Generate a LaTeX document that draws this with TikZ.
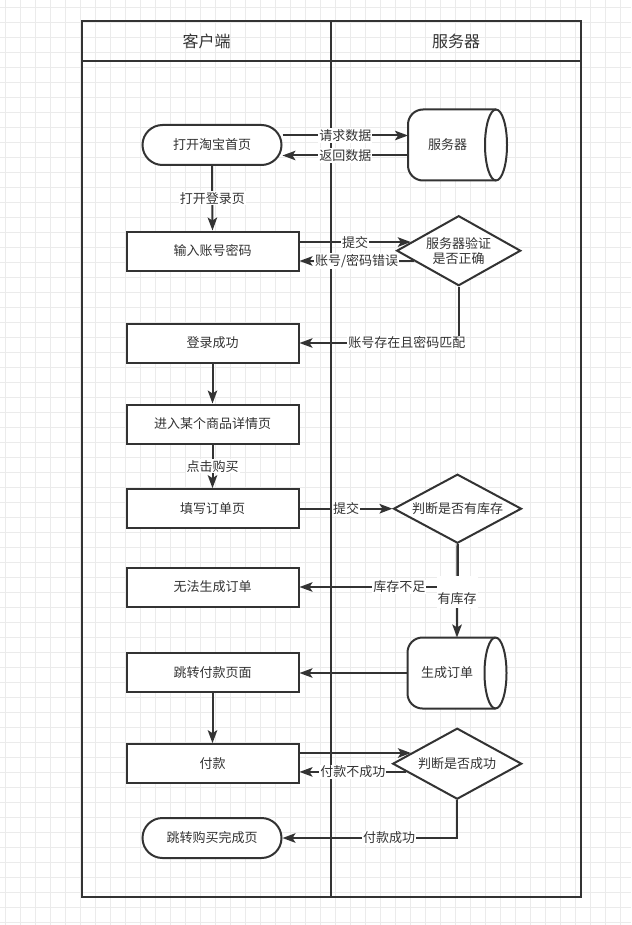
\documentclass[tikz,border=0pt]{standalone}
\usepackage{fontspec}
\setmainfont{Noto Sans CJK SC}
\usetikzlibrary{shapes.geometric,arrows.meta,calc}
\definecolor{ink}{HTML}{333333}
\definecolor{gridc}{HTML}{EBEBEB}
\pgfdeclarelayer{gridlayer}
\pgfdeclarelayer{shapelayer}
\pgfsetlayers{gridlayer,shapelayer,main}
\newcommand\storageshape[1]{%
  \begin{pgfonlayer}{shapelayer}
  \filldraw[fill=white,draw=ink,line width=2pt]
    ($(#1.north west)+(15pt,0)$) -- ($(#1.north east)+(-11pt,0)$)
    arc[start angle=90,end angle=-90,x radius=11pt,y radius=35.5pt]
    -- ($(#1.south west)+(15pt,0)$)
    arc[start angle=270,end angle=180,radius=15pt]
    -- ($(#1.north west)+(0,-15pt)$)
    arc[start angle=180,end angle=90,radius=15pt] -- cycle;
  \draw[ink,line width=2pt] ($(#1.north east)+(-11pt,0)$)
    arc[start angle=90,end angle=270,x radius=11pt,y radius=35.5pt];
  \end{pgfonlayer}}
\begin{document}
\begin{tikzpicture}[x=1pt,y=-1pt,
  every node/.style={font=\fontsize{13pt}{15pt}\selectfont, text=ink},
  conn/.style={draw=ink, line width=2pt, -{Stealth[length=13pt,width=9.5pt,inset=3pt]}},
  lane/.style={draw=ink, line width=2pt},
  hdr/.style={font=\fontsize{16pt}{18pt}\selectfont},
  box/.style={draw=ink, fill=white, line width=2pt, rectangle, minimum width=172pt, minimum height=39pt, inner sep=0pt},
  stadium/.style={draw=ink, fill=white, line width=2pt, rounded corners=20pt, minimum width=139pt, minimum height=40pt, inner sep=0pt},
  store/.style={minimum width=99pt, minimum height=71pt, inner sep=0pt, outer sep=0pt},
  decision/.style={diamond, draw=ink, fill=white, line width=2pt, inner sep=0pt, align=center},
  lbl/.style={fill=white, inner sep=1pt}
]
\useasboundingbox (0,0) rectangle (631,925);
\begin{pgfonlayer}{gridlayer}
  \fill[white] (0,0) rectangle (631,925);
  \foreach \x in {5,20,...,630} \draw[gridc,line width=1pt] (\x,0) -- (\x,925);
  \foreach \y in {7.5,22.5,...,925} \draw[gridc,line width=1pt] (0,\y) -- (631,\y);
\end{pgfonlayer}

% swimlanes
\draw[lane] (82,21) rectangle (581,897);
\draw[lane] (82,61) -- (581,61);
\draw[lane] (331,21) -- (331,897);
\node[hdr] (hc) at (206.5,41) {客户端};
\node[hdr] (hs) at (456,41) {服务器};

% nodes
\node[stadium] (open) at (212,145) {打开淘宝首页};
\node[store] (srv) at (457.5,145) {};
\storageshape{srv}
\node (srvt) at ([xshift=-10pt]srv.center) {服务器};
\node[box] (inp) at (212.5,251) {输入账号密码};
\node[decision, shape aspect=1.77, minimum width=124pt, minimum height=70pt] (ver) at (458.7,250.7) {服务器验证\\是否正确};
\node[box] (suc) at (212.5,343) {登录成功};
\node[box] (det) at (212.5,424) {进入某个商品详情页};
\node[box] (fill) at (212.5,508.7) {填写订单页};
\node[decision, shape aspect=1.85, minimum width=128pt, minimum height=69pt] (stock) at (457.5,508.7) {判断是否有库存};
\node[box] (nogen) at (212.5,587) {无法生成订单};
\node[store] (gen) at (457,673) {};
\storageshape{gen}
\node (gent) at ([xshift=-10pt]gen.center) {生成订单};
\node[box] (paypage) at (212.5,672.7) {跳转付款页面};
\node[box] (pay) at (212.5,763.7) {付款};
\node[decision, shape aspect=1.82, minimum width=129pt, minimum height=71pt] (pd) at (457.2,763.7) {判断是否成功};
\node[stadium] (done) at (212,838) {跳转购买完成页};

% helper points on diamond borders
\coordinate (p1) at ($(ver.west)!0.24!(ver.north)$);
\coordinate (p2) at ($(ver.west)!0.286!(ver.south)$);
\coordinate (p3) at ($(pd.west)!0.293!(pd.north)$);
\coordinate (p4) at ($(pd.west)!0.225!(pd.south)$);

% connectors
\draw[conn] ([yshift=9.5pt]open.east) -- node[lbl] (l1) {请求数据} ([yshift=9.5pt]srv.west);
\draw[conn] ([yshift=-10.5pt]srv.west) -- node[lbl] (l2) {返回数据} ([yshift=-10.5pt]open.east);
\draw[conn] (open.south) -- node[lbl] (l3) {打开登录页} (inp.north);
\draw[conn] (inp.east |- p1) -- node[lbl] (l4) {提交} (p1);
\draw[conn] (p2) -- node[lbl] (l5) {账号/密码错误} (inp.east |- p2);
\draw[conn] (ver.south) |- node[lbl, pos=0.663] (l6) {账号存在且密码匹配} (suc.east);
\draw[conn] (suc.south) -- (det.north);
\draw[conn] (det.south) -- node[lbl] (l7) {点击购买} (fill.north);
\draw[conn] (fill.east) -- node[lbl] (l8) {提交} (stock.west);
\draw[conn] (stock.south) |- node[lbl, pos=0.684] (l9) {库存不足} (nogen.east);
\draw[conn] (stock.south) -- node[fill=white, inner xsep=1pt, inner ysep=0pt, text height=28pt, text depth=4pt, anchor=base, pos=0.638] (l10) {有库存} (gen.north);
\draw[conn] (gen.west) -- (gen.west -| paypage.east);
\draw[conn] (paypage.south) -- (pay.north);
\draw[conn] (pay.east |- p3) -- (p3);
\draw[conn] (p4) -- node[lbl] (l11) {付款不成功} (pay.east |- p4);
\draw[conn] (pd.south) |- node[lbl, pos=0.695] (l12) {付款成功} (done.east);
\end{tikzpicture}
\end{document}
